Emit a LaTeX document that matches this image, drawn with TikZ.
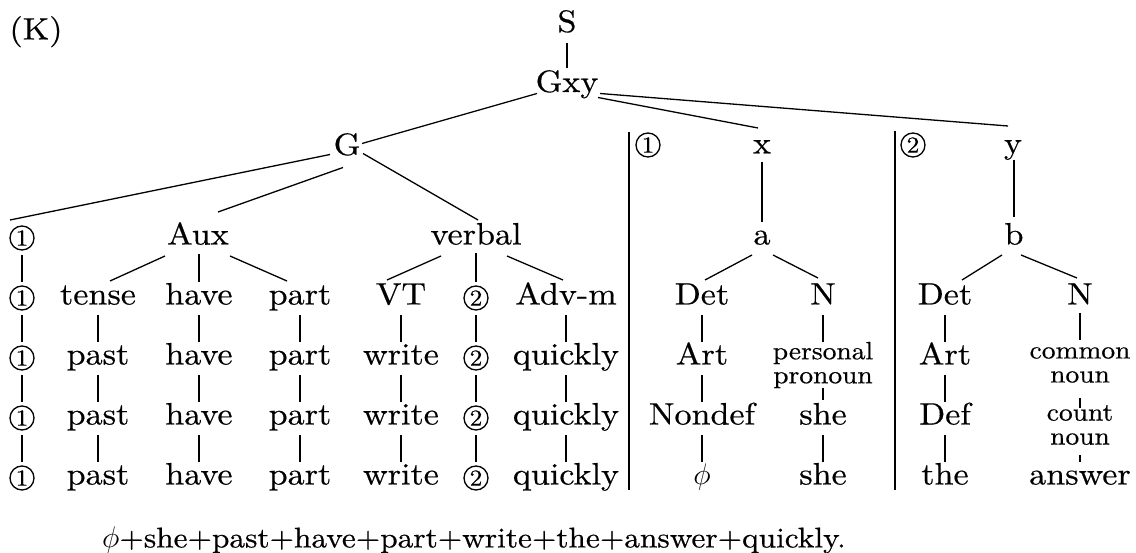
\documentclass[tikz,border=0pt]{standalone}
\usepackage{fontspec}
\setmainfont{lmroman10-regular.otf}[FakeStretch=1.1,FakeBold=0.5]
\newcommand{\phisym}{\scalebox{1.2}{$\phi$}}

\begin{document}
\begin{tikzpicture}[x=1pt,y=-1pt,
  lbl/.style={inner sep=3pt, text height=20pt, text depth=7pt,
              font=\fontsize{31}{36}\selectfont},
  sml/.style={inner sep=0pt, align=center, font=\fontsize{25}{24}\selectfont},
  circ/.style={circle, draw, line width=1.3pt, inner sep=0pt, minimum size=24pt,
               font=\fontsize{23}{23}\selectfont},
  link/.style={line width=1.3pt},
  divider/.style={line width=1.2pt}
]
\useasboundingbox (0,0) rectangle (1136,553);

% heading and upper tree
\node[lbl] (K) at (36,33) {(K)};
\node[lbl] (S) at (567,25.5) {S};
\node[lbl] (Gxy) at (567,85.5) {Gxy};
\node[lbl] (G) at (347,148.5) {G};
\node[lbl] (nx) at (762,147) {x};
\node[lbl] (ny) at (1013,147) {y};
\node[circ] (m1) at (648,145) {1};
\node[circ] (m2) at (913,145) {2};

% row 1
\node[circ] (c1a) at (22,238) {1};
\node[lbl] (Aux) at (198,238) {Aux};
\node[lbl] (verbal) at (476,238) {verbal};
\node[lbl] (na) at (762,238) {a};
\node[lbl] (nb) at (1014,238) {b};

% row 2
\node[circ] (c1b) at (22,298) {1};
\node[lbl] (tense) at (98,298) {tense};
\node[lbl] (have1) at (199,298) {have};
\node[lbl] (part1) at (300,298) {part};
\node[lbl] (VT) at (401,298) {VT};
\node[circ] (c2b) at (476,298) {2};
\node[lbl] (Advm) at (566,298) {Adv-m};
\node[lbl] (Det1) at (702,298) {Det};
\node[lbl] (N1) at (823,298) {N};
\node[lbl] (Det2) at (945,298) {Det};
\node[lbl] (N2) at (1080,298) {N};

% row 3
\node[circ] (c1c) at (22,358) {1};
\node[lbl] (past1) at (98,358) {past};
\node[lbl] (have2) at (199,358) {have};
\node[lbl] (part2) at (300,358) {part};
\node[lbl] (write1) at (401,358) {write};
\node[circ] (c2c) at (476,358) {2};
\node[lbl] (quick1) at (566,358) {quickly};
\node[lbl] (Art1) at (702,358) {Art};
\node[sml] (pp) at (823,365) {personal\\pronoun};
\node[lbl] (Art2) at (945,358) {Art};
\node[sml] (cn) at (1080,365) {common\\noun};

% row 4
\node[circ] (c1d) at (22,418) {1};
\node[lbl] (past2) at (98,418) {past};
\node[lbl] (have3) at (199,418) {have};
\node[lbl] (part3) at (300,418) {part};
\node[lbl] (write2) at (401,418) {write};
\node[circ] (c2d) at (476,418) {2};
\node[lbl] (quick2) at (566,418) {quickly};
\node[lbl] (Nondef) at (702,418) {Nondef};
\node[lbl] (she1) at (823,418) {she};
\node[lbl] (Def) at (945,418) {Def};
\node[sml] (cnt) at (1080,425) {count\\noun};

% row 5
\node[circ] (c1e) at (22,478) {1};
\node[lbl] (past3) at (98,478) {past};
\node[lbl] (have4) at (199,478) {have};
\node[lbl] (part4) at (300,478) {part};
\node[lbl] (write3) at (401,478) {write};
\node[circ] (c2e) at (476,478) {2};
\node[lbl] (quick3) at (566,478) {quickly};
\node[lbl] (phi) at (702,478) {\phisym};
\node[lbl] (she2) at (823,478) {she};
\node[lbl] (the) at (945,478) {the};
\node[lbl] (ans) at (1080,478) {answer};

% resulting string
\node[inner sep=0pt, font=\fontsize{28.5}{34}\selectfont] (res) at (474,540)
  {\phisym+she+past+have+part+write+the+answer+quickly.};

% section dividers
\coordinate (d1t) at (629,132);
\coordinate (d1b) at (629,490);
\coordinate (d2t) at (895,131);
\coordinate (d2b) at (895,490);
\draw[divider] (d1t) -- (d1b);
\draw[divider] (d2t) -- (d2b);

% branches: parent/dx/dy/child/dx/dy (offsets from node centres)
\foreach \p/\px/\py/\c/\cx/\cy in {
  S/0/18/Gxy/0/-17,
  Gxy/-30/8/G/15/-5,
  Gxy/31/12/nx/-4/-19,
  Gxy/33/8/ny/-5/-21,
  G/-17/6/c1a/-12/-18,
  G/-4/19/Aux/20/-26,
  G/16/5/verbal/2/-18,
  Aux/-33/18/tense/12/-17,
  Aux/1/16/have1/0/-16,
  Aux/32/18/part1/-13/-17,
  verbal/-35/18/VT/-14/-18,
  verbal/0/15/c2b/0/-16,
  verbal/31/18/Advm/-3/-18,
  nx/0/15/na/0/-16,
  ny/1/13/nb/0/-21,
  na/-10/17/Det1/3/-18,
  na/11/17/N1/-5/-20,
  nb/-12/17/Det2/17/-18,
  nb/7/17/N2/-3/-20,
  N1/0/17/pp/0/-23,
  pp/0/23/she1/0/-18,
  N2/0/15/cn/0/-25,
  cn/0/33/cnt/0/-17,
  cnt/0/30/ans/0/-16}
  \draw[link] ([shift={(\px,\py)}]\p.center) -- ([shift={(\cx,\cy)}]\c.center);

% unary chains down each column
\foreach \p/\c in {
  c1a/c1b, c1b/c1c, c1c/c1d, c1d/c1e,
  tense/past1, past1/past2, past2/past3,
  have1/have2, have2/have3, have3/have4,
  part1/part2, part2/part3, part3/part4,
  VT/write1, write1/write2, write2/write3,
  c2b/c2c, c2c/c2d, c2d/c2e,
  Advm/quick1, quick1/quick2, quick2/quick3,
  Det1/Art1, Art1/Nondef, Nondef/phi,
  she1/she2,
  Det2/Art2, Art2/Def, Def/the}
  \draw[link] ([shift={(0,17)}]\p.center) -- ([shift={(0,-16)}]\c.center);
\end{tikzpicture}
\end{document}
